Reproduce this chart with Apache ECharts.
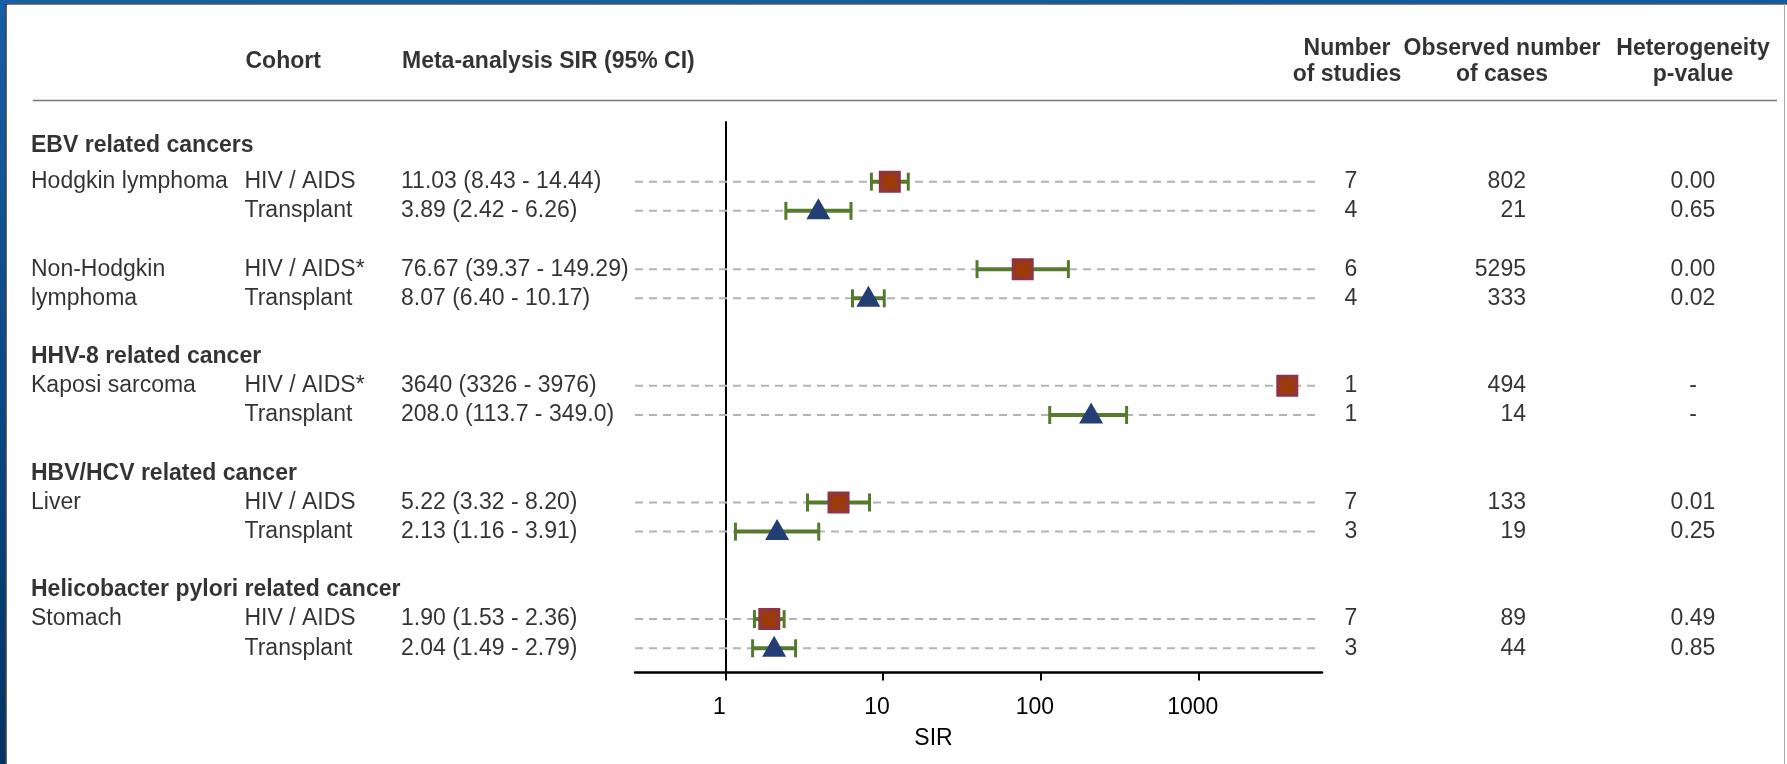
<!DOCTYPE html>
<html>
<head>
<meta charset="utf-8">
<script src="https://cdn.jsdelivr.net/npm/echarts@6/dist/echarts.min.js"></script>
<style>
html,body{margin:0;padding:0;background:#fff;overflow:hidden}
#chart{width:1787px;height:764px}
</style>
</head>
<body>
<div id="chart"></div>
<script>
// ---------------- data ----------------
const groups = ['EBV related cancers', 'HHV-8 related cancer', 'HBV/HCV related cancer', 'Helicobacter pylori related cancer'];
const diseases = ['Hodgkin lymphoma', 'Non-Hodgkin\nlymphoma', 'Kaposi sarcoma', 'Liver', 'Stomach'];
const diseaseGroup = [0, 0, 1, 2, 3];
const cohorts = ['HIV / AIDS', 'Transplant', 'HIV / AIDS*', 'Transplant', 'HIV / AIDS*', 'Transplant', 'HIV / AIDS', 'Transplant', 'HIV / AIDS', 'Transplant'];
const sir   = [11.03, 3.89, 76.67, 8.07, 3640, 208.0, 5.22, 2.13, 1.90, 2.04];
const lower = [8.43, 2.42, 39.37, 6.40, 3326, 113.7, 3.32, 1.16, 1.53, 1.49];
const upper = [14.44, 6.26, 149.29, 10.17, 3976, 349.0, 8.20, 3.91, 2.36, 2.79];
const sirText = ['11.03 (8.43 - 14.44)', '3.89 (2.42 - 6.26)', '76.67 (39.37 - 149.29)', '8.07 (6.40 - 10.17)',
  '3640 (3326 - 3976)', '208.0 (113.7 - 349.0)', '5.22 (3.32 - 8.20)', '2.13 (1.16 - 3.91)',
  '1.90 (1.53 - 2.36)', '2.04 (1.49 - 2.79)'];
const studies = [7, 4, 6, 4, 1, 1, 7, 3, 7, 3];
const cases = [802, 21, 5295, 333, 494, 14, 133, 19, 89, 44];
const pvalues = ['0.00', '0.65', '0.00', '0.02', '-', '-', '0.01', '0.25', '0.49', '0.85'];
const tickValues = [1, 10, 100, 1000];
const colHeaders = ['Cohort', 'Meta-analysis SIR (95% CI)', 'Number\nof studies', 'Observed number\nof cases', 'Heterogeneity\np-value'];
const axisTitle = 'SIR';

// ---------------- layout (row indices) ----------------
const FONT = '"Liberation Sans", Arial, Helvetica, sans-serif';
const FS = 23;
const rowOf = [];       // row index per estimate
const headerRow = [];   // row index per group header
const diseaseRow = [];
let r = -1, prevG = -1;
diseases.forEach((d, i) => {
  const g = diseaseGroup[i];
  if (i > 0) r += 1;                 // blank row
  if (g !== prevG) { headerRow[g] = r + (i === 0 ? -0.25 : 0); r += 1; prevG = g; }
  diseaseRow[i] = r;
  rowOf.push(r, r + 1);
  r += 2;
});

// column anchors (pixels, overlay grid)
const COL = { disease: 31, cohort: 244.5, sir: 401, studies: 1351, cases: 1526, pval: 1693 };
const HEADER_ROW = -4.13;

const lg = v => Math.log10(v);

// ---------------- text items ----------------
function txt(x, y, text, align, bold, extra) {
  const pos = align === 'left' ? 'right' : (align === 'right' ? 'left' : 'inside');
  return {
    value: [x, y],
    label: Object.assign({
      show: true, formatter: text, position: pos, distance: 0,
      fontFamily: FONT, fontSize: FS, color: '#000',
      fontWeight: bold ? 'bold' : 'normal', align: align, verticalAlign: 'middle'
    }, extra || {})
  };
}
const textData = [];
groups.forEach((g, i) => textData.push(txt(COL.disease, headerRow[i], g, 'left', true)));
diseases.forEach((d, i) => d.split('\n').forEach((line, j) => textData.push(txt(COL.disease, diseaseRow[i] + j, line, 'left', false))));
cohorts.forEach((c, i) => {
  const y = rowOf[i];
  textData.push(txt(COL.cohort, y, c, 'left', false));
  textData.push(txt(COL.sir, y, sirText[i], 'left', false));
  textData.push(txt(COL.studies, y, String(studies[i]), 'center', false));
  textData.push(txt(COL.cases, y, String(cases[i]), 'right', false));
  textData.push(txt(COL.pval, y, pvalues[i], 'center', false));
});
const hx = [COL.cohort + 1, COL.sir + 1, 1347, 1502, 1693];
colHeaders.forEach((h, i) => {
  textData.push(txt(hx[i], HEADER_ROW, h, i < 2 ? 'left' : 'center', true, { lineHeight: 26 }));
});

// ---------------- chart ----------------
const chart = echarts.init(document.getElementById('chart'), null, { renderer: 'canvas' });

const ROW_MIN = -2.047, ROW_MAX = 16.831;
const option = {
  animation: false,
  backgroundColor: '#fff',
  grid: [
    { left: 635, top: 122, width: 687, height: 550.5, containLabel: false },
    { left: 0, top: 0, right: 0, bottom: 0, containLabel: false }
  ],
  xAxis: [
    {
      gridIndex: 0, type: 'value', min: -0.572, max: 3.781,
      axisLine: { show: true, onZero: false, lineStyle: { color: '#000', width: 2.5 } },
      axisTick: { show: true, customValues: tickValues.map(lg), length: 8, lineStyle: { color: '#000', width: 2 } },
      axisLabel: {
        show: true, customValues: tickValues.map(lg), margin: 23.5,
        formatter: v => String(Math.round(Math.pow(10, v))),
        fontFamily: FONT, fontSize: FS, color: '#000', padding: [0, 12, 0, 0]
      },
      splitLine: { show: false },
      name: axisTitle, nameLocation: 'middle', nameGap: 54.5,
      nameTextStyle: { fontFamily: FONT, fontSize: FS, color: '#000', padding: [0, 90, 0, 0] }
    },
    { gridIndex: 1, type: 'value', min: 0, max: 1787, show: false }
  ],
  yAxis: [
    {
      gridIndex: 0, type: 'value', inverse: true, min: ROW_MIN, max: ROW_MAX,
      axisLine: { show: true, onZero: true, lineStyle: { color: '#000', width: 2 } },
      axisTick: { show: false }, axisLabel: { show: false }, splitLine: { show: false }
    },
    { gridIndex: 1, type: 'value', inverse: true, min: -6.231, max: 19.969, show: false }
  ],
  graphic: [
    // frame
    { type: 'rect', shape: { x: 0, y: 0, width: 1787, height: 3.5 }, style: { fill: new echarts.graphic.LinearGradient(0, 0, 1, 0, [{ offset: 0, color: '#135fa9' }, { offset: 1, color: '#0d5ba6' }]) }, z: 100 },
    { type: 'rect', shape: { x: 0, y: 0, width: 5.5, height: 764 }, style: { fill: new echarts.graphic.LinearGradient(0, 0, 0, 1, [{ offset: 0, color: '#135fa9' }, { offset: 1, color: '#003366' }]) }, z: 100 },
    { type: 'line', shape: { x1: 5.5, y1: 4, x2: 1787, y2: 4 }, style: { stroke: '#000', lineWidth: 1.2 }, z: 100 },
    { type: 'line', shape: { x1: 6, y1: 4, x2: 6, y2: 764 }, style: { stroke: '#000', lineWidth: 1.2 }, z: 100 },
    { type: 'line', shape: { x1: 1784.5, y1: 4, x2: 1784.5, y2: 764 }, style: { stroke: '#aaa', lineWidth: 1 }, z: 100 },
    // header rule
    { type: 'line', shape: { x1: 33, y1: 100.5, x2: 1777, y2: 100.5 }, style: { stroke: '#7a7a7a', lineWidth: 1.6 }, z: 10 }
  ],
  series: [
    {
      name: 'rowlines', type: 'custom', xAxisIndex: 0, yAxisIndex: 0, silent: true, z: 1,
      data: rowOf.map(v => [0, v]),
      renderItem: (params, api) => {
        const cs = params.coordSys;
        const y = api.coord([0, api.value(1)])[1];
        return { type: 'line', shape: { x1: cs.x, y1: y, x2: cs.x + cs.width - 5, y2: y },
          style: { stroke: '#b4b4b4', lineWidth: 2, lineDash: [8, 6] } };
      }
    },
    {
      name: 'ci', type: 'custom', xAxisIndex: 0, yAxisIndex: 0, silent: true, z: 3,
      data: sir.map((v, i) => [lg(lower[i]), lg(upper[i]), rowOf[i]]),
      renderItem: (params, api) => {
        const p1 = api.coord([api.value(0), api.value(2)]);
        const p2 = api.coord([api.value(1), api.value(2)]);
        const st = { stroke: '#557a2d', lineWidth: 4 };
        const cap = 9;
        return { type: 'group', children: [
          { type: 'line', shape: { x1: p1[0], y1: p1[1], x2: p2[0], y2: p2[1] }, style: st },
          { type: 'line', shape: { x1: p1[0], y1: p1[1] - cap, x2: p1[0], y2: p1[1] + cap }, style: { stroke: '#557a2d', lineWidth: 3 } },
          { type: 'line', shape: { x1: p2[0], y1: p2[1] - cap, x2: p2[0], y2: p2[1] + cap }, style: { stroke: '#557a2d', lineWidth: 3 } }
        ] };
      }
    },
    {
      name: 'HIV / AIDS', type: 'scatter', xAxisIndex: 0, yAxisIndex: 0, silent: true, z: 5,
      symbol: 'rect', symbolSize: 18.5,
      itemStyle: { color: '#9c3a0a', borderColor: '#8f3542', borderWidth: 3.5, opacity: 1 },
      data: sir.map((v, i) => cohorts[i].startsWith('HIV') ? [lg(v), rowOf[i]] : null).filter(d => d)
    },
    {
      name: 'Transplant', type: 'scatter', xAxisIndex: 0, yAxisIndex: 0, silent: true, z: 5,
      symbol: 'triangle', symbolSize: [24, 21], symbolOffset: [0, -2],
      itemStyle: { color: '#233e74', opacity: 1 },
      data: sir.map((v, i) => cohorts[i].startsWith('Trans') ? [lg(v), rowOf[i]] : null).filter(d => d)
    },
    {
      name: 'text', type: 'scatter', xAxisIndex: 1, yAxisIndex: 1, silent: true, z: 20,
      symbol: 'circle', symbolSize: 0.01, itemStyle: { color: 'rgba(0,0,0,0)' },
      data: textData
    }
  ]
};
chart.setOption(option);
</script>
</body>
</html>
